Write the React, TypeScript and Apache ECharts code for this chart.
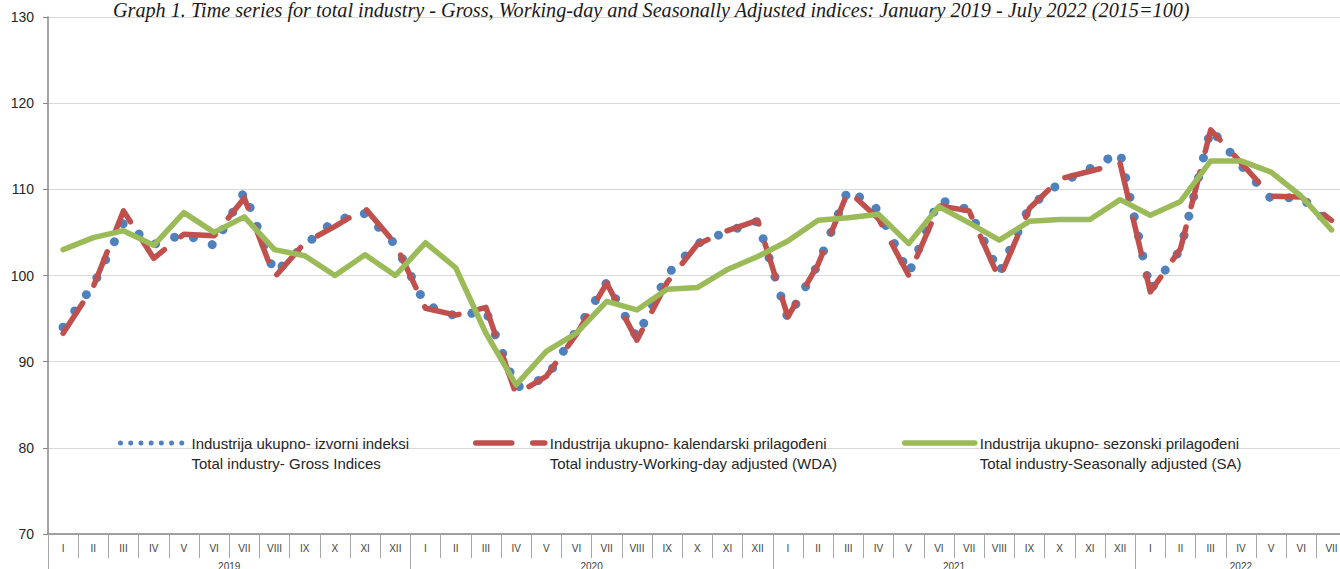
import React, { useEffect, useRef } from "react";
import * as echarts from "echarts";

// ---- data ----
const years = ["2019", "2020", "2021", "2022"];
const monthsPerYear = [12, 12, 12, 7];
const romanMonths = ["I", "II", "III", "IV", "V", "VI", "VII", "VIII", "IX", "X", "XI", "XII"];

const grossIndices = [
  94.0, 98.9, 106.1, 103.6, 104.8, 103.5, 109.7, 100.3, 103.5, 106.4, 107.2, 103.6,
  96.6, 95.3, 95.9, 87.0, 88.1, 93.6, 99.2, 92.8, 100.1, 103.7, 105.1, 106.3,
  95.0, 101.3, 110.0, 107.6, 100.2, 108.8, 107.6, 100.3, 108.0, 110.7, 112.4, 114.3,
  98.3, 103.0, 117.0, 112.8, 108.9, 109.1, 105.7,
];
const workingDayAdjusted = [
  93.3, 98.7, 107.5, 102.0, 104.8, 104.6, 109.0, 99.8, 103.8, 105.7, 107.8, 103.7,
  96.2, 95.4, 96.3, 86.2, 88.3, 93.2, 99.1, 92.5, 99.2, 103.6, 105.2, 106.4,
  95.2, 101.3, 109.8, 106.6, 100.0, 108.1, 107.5, 99.6, 107.8, 111.2, 112.1, 113.0,
  98.1, 103.1, 116.9, 113.1, 109.2, 109.1, 106.4,
];
const seasonallyAdjusted = [
  103.0, 104.4, 105.2, 103.5, 107.3, 105.0, 106.8, 103.0, 102.3, 100.0, 102.4, 100.0,
  103.8, 100.9, 93.3, 87.3, 91.2, 93.3, 97.0, 96.0, 98.4, 98.6, 100.7, 102.2,
  104.0, 106.4, 106.7, 107.1, 103.7, 108.0, 106.1, 104.1, 106.3, 106.5, 106.5, 108.8,
  107.0, 108.6, 113.3, 113.3, 112.0, 109.2, 105.3,
];

const seriesNames = [
  "Industrija ukupno- izvorni indeksi\nTotal industry- Gross Indices",
  "Industrija ukupno- kalendarski prilagođeni\nTotal industry-Working-day adjusted (WDA)",
  "Industrija ukupno- sezonski prilagođeni\nTotal industry-Seasonally adjusted (SA)",
];
const titleText =
  "Graph 1. Time series for total industry - Gross, Working-day and Seasonally Adjusted indices: January 2019 - July 2022 (2015=100)";

const yMin = 70;
const yMax = 130;
const yStep = 10;

// ---- derived ----
const categories: string[] = [];
years.forEach((y, yi) => {
  for (let m = 0; m < monthsPerYear[yi]; m++) categories.push(y + "-" + romanMonths[m]);
});
const yearLabelAt: Record<string, string> = {};
{
  let start = 0;
  years.forEach((y, yi) => {
    yearLabelAt[String(start + monthsPerYear[yi] / 2)] = y;
    start += monthsPerYear[yi];
  });
}
const N = categories.length;

const FONT = "Liberation Sans, Arial, sans-serif";
const GRID_LEFT = 48;
const CELL = 30.2;

export default function App() {
  const ref = useRef<HTMLDivElement>(null);
  useEffect(() => {
    if (!ref.current) return;
    const chart = echarts.init(ref.current, undefined, { renderer: "svg" });
    const legendBase = {
      orient: "horizontal",
      selectedMode: false,
      itemHeight: 14,
      top: 408,
      itemStyle: { opacity: 0 },
      formatter: (name: string) => " \n" + name,
      textStyle: {
        fontFamily: FONT,
        fontSize: 15,
        color: "#262626",
        lineHeight: 20,
      },
    };
    chart.setOption({
      animation: false,
      backgroundColor: "#ffffff",
      title: {
        text: titleText,
        left: 108,
        top: -5,
        textStyle: {
          fontFamily: "Liberation Serif, serif",
          fontStyle: "italic",
          fontWeight: "normal",
          fontSize: 20.2,
          color: "#1a1a1a",
        },
      },
      legend: [
        {
          ...legendBase,
          data: [seriesNames[0]],
          left: 113,
          itemWidth: 66,
          lineStyle: { width: 5, type: [0.01, 10.2], cap: "round", color: "#4f81bd" },
        },
        {
          ...legendBase,
          data: [seriesNames[1]],
          left: 468,
          itemWidth: 69,
          lineStyle: { width: 5.5, type: [36, 21], cap: "round", color: "#c0504d" },
        },
        {
          ...legendBase,
          data: [seriesNames[2]],
          left: 897,
          itemWidth: 70,
          lineStyle: { width: 5.5, type: "solid", cap: "round", color: "#9bbb59" },
        },
      ],
      grid: [
        { left: GRID_LEFT, top: 17, width: N * CELL, height: 517 },
        { left: GRID_LEFT, top: 534, width: N * CELL, height: 45 },
      ],
      xAxis: [
        {
          type: "category",
          gridIndex: 0,
          data: categories,
          boundaryGap: true,
          axisLine: { show: true, lineStyle: { color: "#868686", width: 1.5 } },
          axisTick: { show: true, interval: 0, length: 24, lineStyle: { color: "#a6a6a6", width: 1 } },
          axisLabel: {
            interval: 0,
            formatter: (v: string) => v.split("-")[1],
            fontSize: 10,
            fontFamily: FONT,
            color: "#404040",
            margin: 9,
          },
          splitLine: { show: false },
        },
        {
          type: "value",
          gridIndex: 1,
          position: "bottom",
          min: 0,
          max: N,
          interval: 12,
          axisLine: { show: false },
          axisTick: { show: false },
          axisLabel: { show: false },
          splitLine: { show: true, lineStyle: { color: "#a6a6a6", width: 1 } },
        },
        {
          type: "value",
          gridIndex: 1,
          position: "top",
          min: 0,
          max: N,
          interval: 0.5,
          axisLine: { show: false },
          axisTick: { show: false },
          splitLine: { show: false },
          axisLabel: {
            inside: true,
            margin: 27,
            fontSize: 10,
            fontFamily: FONT,
            color: "#404040",
            formatter: (v: number) => yearLabelAt[String(v)] || "",
          },
        },
      ],
      yAxis: [
        {
          type: "value",
          gridIndex: 0,
          min: yMin,
          max: yMax,
          interval: yStep,
          axisLine: { show: true, lineStyle: { color: "#868686", width: 1.5 } },
          axisTick: { show: true, length: 5, lineStyle: { color: "#868686" } },
          axisLabel: { fontSize: 14, fontFamily: FONT, color: "#262626", margin: 14 },
          splitLine: { show: true, lineStyle: { color: "#d9d9d9", width: 1 } },
        },
        { type: "value", gridIndex: 1, min: 0, max: 1, show: false },
      ],
      series: [
        {
          type: "line",
          name: seriesNames[0],
          data: grossIndices,
          xAxisIndex: 0,
          yAxisIndex: 0,
          symbol: "none",
          z: 2,
          itemStyle: { color: "#4f81bd" },
          lineStyle: { color: "#4f81bd", width: 9, type: [0.01, 20], cap: "round", join: "round" },
        },
        {
          type: "line",
          name: seriesNames[1],
          data: workingDayAdjusted,
          xAxisIndex: 0,
          yAxisIndex: 0,
          symbol: "none",
          z: 3,
          itemStyle: { color: "#c0504d" },
          lineStyle: { color: "#c0504d", width: 5.5, type: [36, 21], cap: "round", join: "round" },
        },
        {
          type: "line",
          name: seriesNames[2],
          data: seasonallyAdjusted,
          xAxisIndex: 0,
          yAxisIndex: 0,
          symbol: "none",
          z: 4,
          itemStyle: { color: "#9bbb59" },
          lineStyle: { color: "#9bbb59", width: 5.5, cap: "round", join: "round" },
        },
      ],
    });
    return () => chart.dispose();
  }, []);
  return (
    <div
      ref={ref}
      style={{ position: "fixed", left: 0, top: 0, width: 1350, height: 580, background: "#fff" }}
    />
  );
}
